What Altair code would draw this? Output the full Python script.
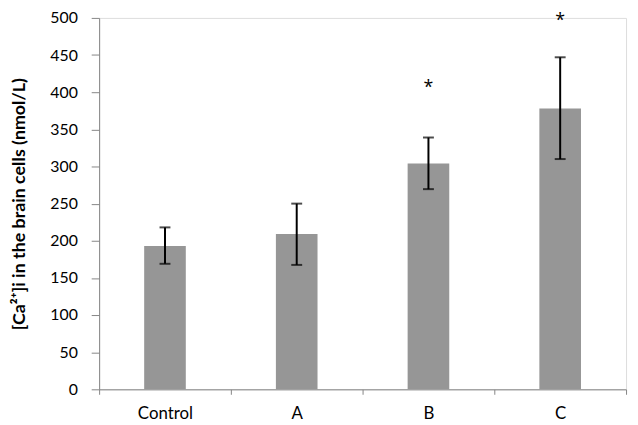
import altair as alt
import pandas as pd

groups = ["Control", "A", "B", "C"]
means = [193, 209, 304, 378]
err_low = [169, 167.5, 269.5, 310]
err_high = [218, 250, 339, 447]
sig_marks = ["", "", "*", "*"]
sig_pos = [None, None, 410, 500]

df = pd.DataFrame({"group": groups, "mean": means, "lo": err_low, "hi": err_high})
sig = pd.DataFrame({"group": groups, "mark": sig_marks, "pos": sig_pos}).dropna()

FONT = "Lato"
AXC = "#868686"

x_axis = alt.Axis(labelAngle=0, tickBand="extent", tickSize=5, labelPadding=11,
                  domainColor=AXC, tickColor=AXC, labelColor="#000000",
                  labelFont=FONT, labelFontSize=17, grid=False, title=None)
x_scale = alt.Scale(paddingInner=0, paddingOuter=0)
y_axis = alt.Axis(values=list(range(0, 501, 50)), tickSize=8, labelPadding=14,
                  domainColor=AXC, tickColor=AXC, labelColor="#000000",
                  labelFont=FONT, labelFontSize=16, grid=False,
                  title="[Ca²⁺]i in the brain cells (nmol/L)",
                  titleFont=FONT, titleFontSize=18, titleFontWeight="bold",
                  titleColor="#000000", titleX=-80, titleY=187.5,
                  titleAngle=270, titleAlign="center", titleBaseline="middle")
y_scale = alt.Scale(domain=[0, 500], nice=False)


def X():
    return alt.X("group:N", sort=groups, scale=x_scale, axis=x_axis)


def Y(field):
    return alt.Y(field, scale=y_scale, axis=y_axis)


bars = alt.Chart(df).mark_bar(color="#969696", width=alt.RelativeBandSize(0.316)).encode(
    x=X(), y=Y("mean:Q"))
rules = alt.Chart(df).mark_rule(color="#000000", strokeWidth=2).encode(
    x=X(), y=Y("lo:Q"), y2="hi:Q")
cap_lo = alt.Chart(df).mark_tick(color="#000000", size=11, thickness=2).encode(
    x=X(), y=Y("lo:Q"))
cap_hi = alt.Chart(df).mark_tick(color="#000000", size=11, thickness=2).encode(
    x=X(), y=Y("hi:Q"))
stars = alt.Chart(sig).mark_text(font="Open Sans", fontSize=18, color="#000000",
                                 baseline="middle", dy=3).encode(
    x=X(), y=Y("pos:Q"), text="mark:N")

chart = alt.layer(bars, rules, cap_lo, cap_hi, stars).properties(
    width=532, height=375,
    autosize=alt.AutoSizeParams(type="none"),
    padding={"left": 92, "top": 8, "right": 4, "bottom": 34},
).configure_view(stroke=None).configure(background="#ffffff")

chart.save("out.html", embed_options={"renderer": "svg", "actions": False})
